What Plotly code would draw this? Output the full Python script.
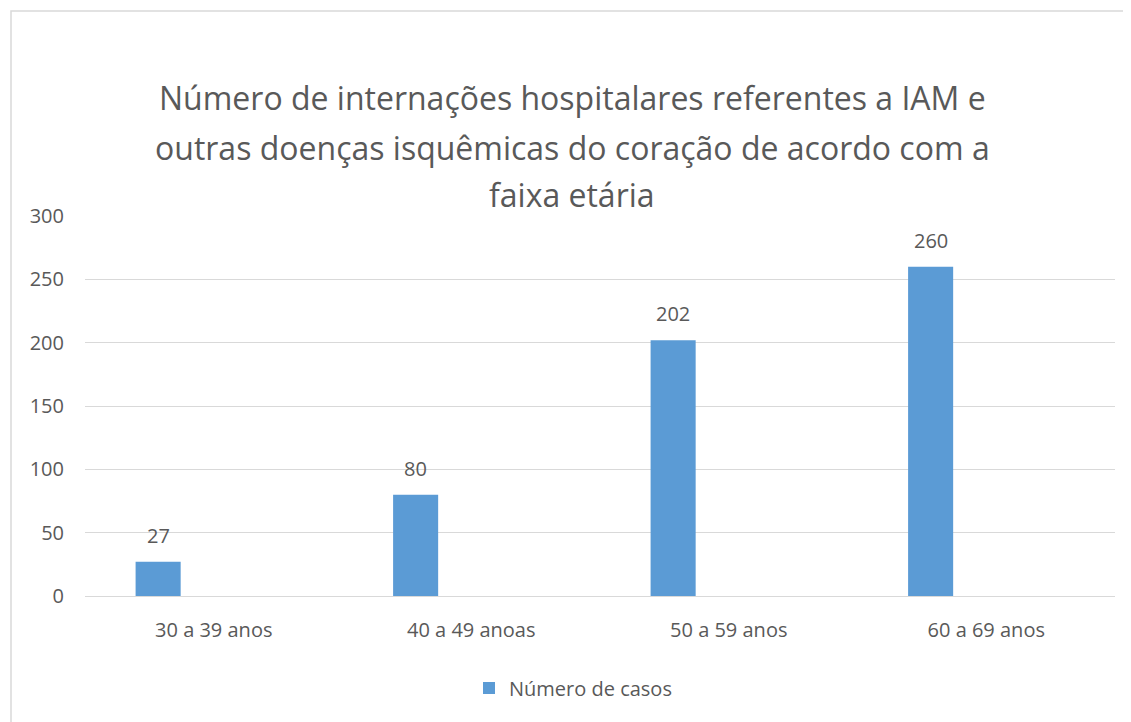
import plotly.graph_objects as go

categories = ["30 a 39 anos", "40 a 49 anoas", "50 a 59 anos", "60 a 69 anos"]
values = [27, 80, 202, 260]
series_name = "Número de casos"
title_lines = [
    "Número de internações hospitalares referentes a IAM e",
    "outras doenças isquêmicas do coração de acordo com a",
    "faixa etária",
]
y_ticks = [0, 50, 100, 150, 200, 250, 300]

FONT = "Open Sans, Noto Sans, sans-serif"
TXT = "#595959"
BAR = "#5B9BD5"
GRID = "#D9D9D9"

OFF = 8  # page body margin
W, H = 1131 - OFF, 722 - OFF
# plot area in page pixels: x 85..1115, y 216..596
L, R, T, B = 85 - OFF, (1131 - OFF) - (1115 - OFF), 216 - OFF, (722 - OFF) - (596 - OFF)
PW, PH = W - L - R, H - T - B

def px_x(p):
    return (p - OFF - L) / PW

def px_y(p):
    return (H - B - (p - OFF)) / PH

bar_w = 0.175
bar_off = -0.3035

fig = go.Figure()
fig.add_trace(go.Bar(
    x=list(range(len(categories))), y=values, name=series_name,
    marker=dict(color=BAR, line=dict(width=0)),
    width=bar_w, offset=bar_off, showlegend=True,
))

annotations = []
for i, v in enumerate(values):
    annotations.append(dict(
        x=i + bar_off + bar_w / 2, y=v, xref="x", yref="y",
        text=str(v), showarrow=False, yanchor="bottom", yshift=11,
        font=dict(family=FONT, size=20, color=TXT),
    ))
title_y = [98, 147, 195]
for line, py in zip(title_lines, title_y):
    annotations.append(dict(
        x=px_x(572), y=px_y(py), xref="paper", yref="paper",
        text=line, showarrow=False, xanchor="center", yanchor="middle",
        font=dict(family=FONT, size=32, color=TXT),
    ))

fig.update_layout(
    width=W, height=H,
    margin=dict(l=L, r=R, t=T, b=B, pad=0),
    paper_bgcolor="white", plot_bgcolor="white",
    font=dict(family=FONT, color=TXT, size=20),
    annotations=annotations,
    showlegend=True,
    legend=dict(orientation="h", x=px_x(469), xanchor="left", y=px_y(688), yanchor="middle",
                font=dict(family=FONT, size=20, color=TXT), itemwidth=30),
    shapes=[dict(type="rect", xref="paper", yref="paper",
                 x0=px_x(11), x1=px_x(1129), y0=px_y(740), y1=px_y(11),
                 line=dict(color="#D9D9D9", width=1.5), fillcolor="rgba(0,0,0,0)", layer="below")],
)
fig.update_xaxes(
    range=[-0.5, len(categories) - 0.5],
    tickmode="array", tickvals=list(range(len(categories))), ticktext=categories,
    showgrid=False, showline=False, zeroline=False, ticks="",
    tickfont=dict(family=FONT, size=20, color=TXT), ticklabelstandoff=20,
)
fig.update_yaxes(
    range=[0, 300], tickmode="array", tickvals=y_ticks,
    showgrid=True, gridcolor=GRID, gridwidth=1.3, zeroline=True, zerolinecolor=GRID, zerolinewidth=1.3,
    showline=False, ticks="", tickfont=dict(family=FONT, size=20, color=TXT), ticklabelstandoff=20,
)

fig.write_html("out.html")
